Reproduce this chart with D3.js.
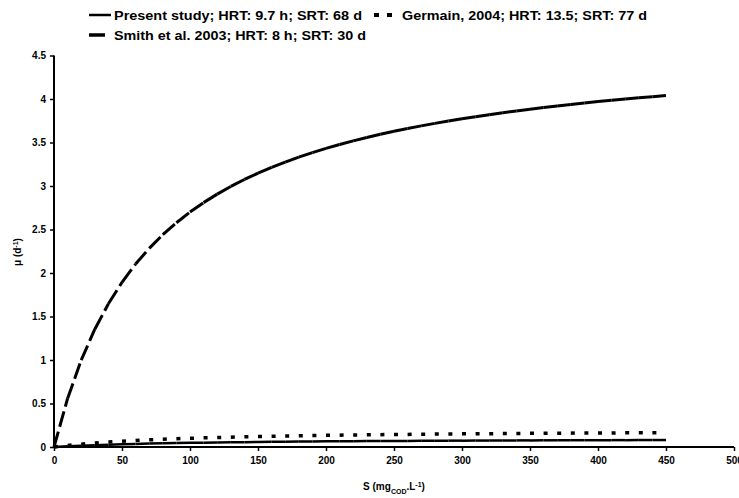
<!DOCTYPE html>
<html><head><meta charset="utf-8">
<script src="https://cdn.jsdelivr.net/npm/d3@7"></script>
<style>
body{margin:0;background:#fff;}
svg{display:block;font-family:"Liberation Sans",Arial,sans-serif;font-weight:bold;}
</style></head><body>
<svg id="c" width="739" height="498"></svg>
<script>
const sValues = [0,10,20,30,40,50,60,70,80,90,100,110,120,130,140,150,160,170,180,190,200,210,220,230,240,250,260,270,280,290,300,310,320,330,340,350,360,370,380,390,400,410,420,430,440,450];
const presentStudy = [0,0.008,0.015,0.021,0.027,0.031,0.035,0.039,0.042,0.045,0.048,0.050,0.052,0.054,0.056,0.058,0.059,0.061,0.062,0.063,0.065,0.066,0.067,0.068,0.069,0.069,0.070,0.071,0.072,0.073,0.073,0.074,0.074,0.075,0.076,0.076,0.077,0.077,0.078,0.078,0.078,0.079,0.079,0.080,0.080,0.080];
const germain = [0,0.018,0.033,0.046,0.057,0.066,0.075,0.082,0.089,0.095,0.100,0.105,0.109,0.113,0.117,0.120,0.123,0.126,0.129,0.132,0.134,0.136,0.138,0.140,0.142,0.144,0.145,0.147,0.148,0.150,0.151,0.152,0.153,0.155,0.156,0.157,0.158,0.159,0.160,0.160,0.161,0.162,0.163,0.164,0.164,0.165];
const smith = [0,0.558,0.998,1.354,1.647,1.893,2.103,2.283,2.440,2.578,2.701,2.809,2.907,2.995,3.075,3.148,3.214,3.275,3.332,3.384,3.432,3.477,3.519,3.558,3.594,3.629,3.661,3.691,3.720,3.747,3.773,3.797,3.820,3.842,3.863,3.883,3.902,3.920,3.937,3.954,3.970,3.985,3.999,4.014,4.027,4.040];
const xTicks = [0,50,100,150,200,250,300,350,400,450,500];
const yTicks = [0,0.5,1,1.5,2,2.5,3,3.5,4,4.5];
const legendLabels = ["Present study; HRT: 9.7 h; SRT: 68 d","Germain, 2004; HRT: 13.5; SRT: 77 d","Smith et al. 2003; HRT: 8 h; SRT: 30 d"];

const svg = d3.select("#c");
const x = d3.scaleLinear().domain([0,500]).range([54,734]);
const y = d3.scaleLinear().domain([0,4.5]).range([447,55.5]);

// axes
const yAxis = svg.append("g").attr("transform","translate(54,0)")
  .call(d3.axisLeft(y).tickValues(yTicks).tickSize(4).tickPadding(4).tickFormat(d=>String(d)));
const xAxis = svg.append("g").attr("transform","translate(0,447)")
  .call(d3.axisBottom(x).tickValues(xTicks).tickSize(4).tickPadding(6).tickFormat(d=>String(d)));
[yAxis,xAxis].forEach(g=>{
  g.select(".domain").attr("stroke","#000").attr("stroke-width",2);
  g.selectAll(".tick line").attr("stroke","#000").attr("stroke-width",1.5);
  g.selectAll(".tick text").attr("fill","#000").style("font-size","10px").style("font-weight","bold").style("font-family","'Liberation Sans',Arial,sans-serif");
});
xAxis.select(".domain").attr("d","M54,0H734");
yAxis.select(".domain").attr("d","M0,447V55.5");

// series as per-segment lines (dash pattern restarts at each data point)
function segs(vals){ const out=[]; for(let i=0;i<vals.length-1;i++) out.push({x1:sValues[i],y1:vals[i],x2:sValues[i+1],y2:vals[i+1]}); return out; }
function drawSeries(vals,cls,width,dash){
  svg.append("g").selectAll("line."+cls).data(segs(vals)).join("line").attr("class",cls)
    .attr("x1",d=>x(d.x1)).attr("y1",d=>y(d.y1)).attr("x2",d=>x(d.x2)).attr("y2",d=>y(d.y2))
    .attr("stroke","#000").attr("stroke-width",width).attr("stroke-dasharray",dash).attr("fill","none");
}
drawSeries(presentStudy,"present",2.5,null);
drawSeries(germain,"germain",3.5,"4,30");
drawSeries(smith,"smith",3,"16,5");

// axis titles
const yt = svg.append("text").attr("transform","translate(21,252) rotate(-90)").attr("text-anchor","middle").style("font-size","10px");
yt.append("tspan").text("μ (d");
yt.append("tspan").text("-1").attr("baseline-shift","super").style("font-size","7px");
yt.append("tspan").text(")");
const xt = svg.append("text").attr("x",394).attr("y",490).attr("text-anchor","middle").style("font-size","10px");
xt.append("tspan").text("S (mg");
xt.append("tspan").text("COD").attr("baseline-shift","sub").style("font-size","7px");
xt.append("tspan").text(".L");
xt.append("tspan").text("-1").attr("baseline-shift","super").style("font-size","7px");
xt.append("tspan").text(")");

// legend
const lg = svg.append("g").style("font-size","13px");
lg.append("line").attr("x1",89).attr("x2",111).attr("y1",15).attr("y2",15).attr("stroke","#000").attr("stroke-width",2.5);
lg.append("text").attr("x",114).attr("y",20).attr("textLength",248).attr("lengthAdjust","spacingAndGlyphs").text(legendLabels[0]);
lg.append("line").attr("x1",374).attr("x2",393).attr("y1",15).attr("y2",15).attr("stroke","#000").attr("stroke-width",4).attr("stroke-dasharray","5,8");
lg.append("text").attr("x",402).attr("y",20).attr("textLength",245).attr("lengthAdjust","spacingAndGlyphs").text(legendLabels[1]);
lg.append("line").attr("x1",89).attr("x2",105).attr("y1",35).attr("y2",35).attr("stroke","#000").attr("stroke-width",3.5);
lg.append("text").attr("x",114).attr("y",40).attr("textLength",252).attr("lengthAdjust","spacingAndGlyphs").text(legendLabels[2]);
</script></body></html>
